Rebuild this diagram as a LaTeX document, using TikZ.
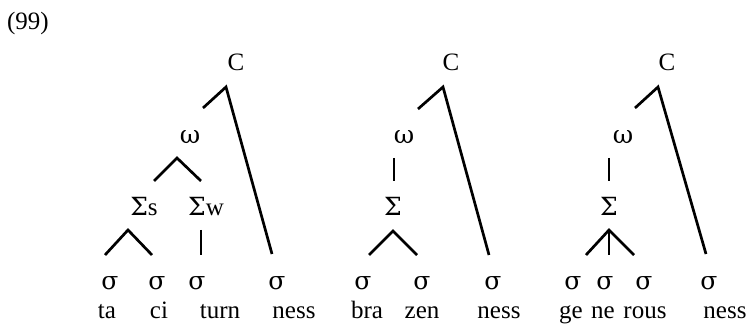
\documentclass[tikz,border=0pt]{standalone}
\usepackage{fontspec}
\setmainfont{Liberation Serif}
\newfontfamily\greekfont{DejaVu Serif}
\usetikzlibrary{positioning}

\begin{document}
\begin{tikzpicture}[
        x=0.5pt, y=-0.5pt,
        lab/.style={anchor=base, inner sep=0pt, font=\fontsize{12.5}{14}\selectfont},
        gr/.style={lab, font=\greekfont\fontsize{12.5}{14}\selectfont},
        br/.style={line width=1.35pt, line cap=butt, line join=miter}
      ]
        \useasboundingbox (0,0) rectangle (749,325);
        \node[lab] (num) at (28,30) {(99)};

        % tacitturnness
        \node[lab] (c1) at (236,71) {C};
        \node[gr] (w1) at (190,144) {ω};
        \node[lab] (fs1) at (144,216) {{\greekfont Σ}s};
        \node[lab] (fw1) at (206,216) {{\greekfont Σ}w};
        \node[gr] (s11) at (110,290) {σ};
        \node[gr] (s12) at (157,290) {σ};
        \node[gr] (s13) at (197,290) {σ};
        \node[gr] (s14) at (277,290) {σ};
        \node[lab] (t11) at (107,319) {ta};
        \node[lab] (t12) at (159,319) {ci};
        \node[lab] (t13) at (220,319) {turn};
        \node[lab] (t14) at (294,319) {ness};
        \coordinate (c1a) at (226,87);
        \coordinate (c1l) at (203,108);
        \coordinate (c1r) at (272,254);
        \coordinate (w1a) at (177,158);
        \coordinate (w1l) at (154,181);
        \coordinate (w1r) at (201,181);
        \coordinate (fs1a) at (128,230);
        \coordinate (fs1l) at (105,255);
        \coordinate (fs1r) at (152,255);
        \coordinate (fw1a) at (201,230);
        \coordinate (fw1b) at (201,255);
        \draw[br] (c1l) -- (c1a) -- (c1r);
        \draw[br] (w1l) -- (w1a) -- (w1r);
        \draw[br] (fs1l) -- (fs1a) -- (fs1r);
        \draw[br] (fw1a) -- (fw1b);

        % brazenness
        \node[lab] (c2) at (451,71) {C};
        \node[gr] (w2) at (404,144) {ω};
        \node[gr] (f2) at (393,216) {Σ};
        \node[gr] (s21) at (363,290) {σ};
        \node[gr] (s22) at (422,290) {σ};
        \node[gr] (s23) at (493,290) {σ};
        \node[lab] (t21) at (367,319) {bra};
        \node[lab] (t22) at (422,319) {zen};
        \node[lab] (t23) at (499,319) {ness};
        \coordinate (c2a) at (443,87);
        \coordinate (c2l) at (418,109);
        \coordinate (c2r) at (489,255);
        \coordinate (w2a) at (394,158);
        \coordinate (w2b) at (394,181);
        \coordinate (f2a) at (393,231);
        \coordinate (f2l) at (369,255);
        \coordinate (f2r) at (417,255);
        \draw[br] (c2l) -- (c2a) -- (c2r);
        \draw[br] (w2a) -- (w2b);
        \draw[br] (f2l) -- (f2a) -- (f2r);

        % generousness
        \node[lab] (c3) at (667,71) {C};
        \node[gr] (w3) at (623,144) {ω};
        \node[gr] (f3) at (609,216) {Σ};
        \node[gr] (s31) at (573,290) {σ};
        \node[gr] (s32) at (605,290) {σ};
        \node[gr] (s33) at (644,290) {σ};
        \node[gr] (s34) at (709,290) {σ};
        \node[lab] (t31) at (571,319) {ge};
        \node[lab] (t32) at (603,319) {ne};
        \node[lab] (t33) at (645,319) {rous};
        \node[lab] (t34) at (725,319) {ness};
        \coordinate (c3a) at (658,87);
        \coordinate (c3l) at (635,108);
        \coordinate (c3r) at (706,254);
        \coordinate (w3a) at (609,158);
        \coordinate (w3b) at (609,181);
        \coordinate (f3a) at (609,230);
        \coordinate (f3l) at (586,255);
        \coordinate (f3m) at (609,255);
        \coordinate (f3r) at (634,255);
        \draw[br] (c3l) -- (c3a) -- (c3r);
        \draw[br] (w3a) -- (w3b);
        \draw[br] (f3l) -- (f3a) -- (f3r);
        \draw[br] (f3a) -- (f3m);
      \end{tikzpicture}
\end{document}
